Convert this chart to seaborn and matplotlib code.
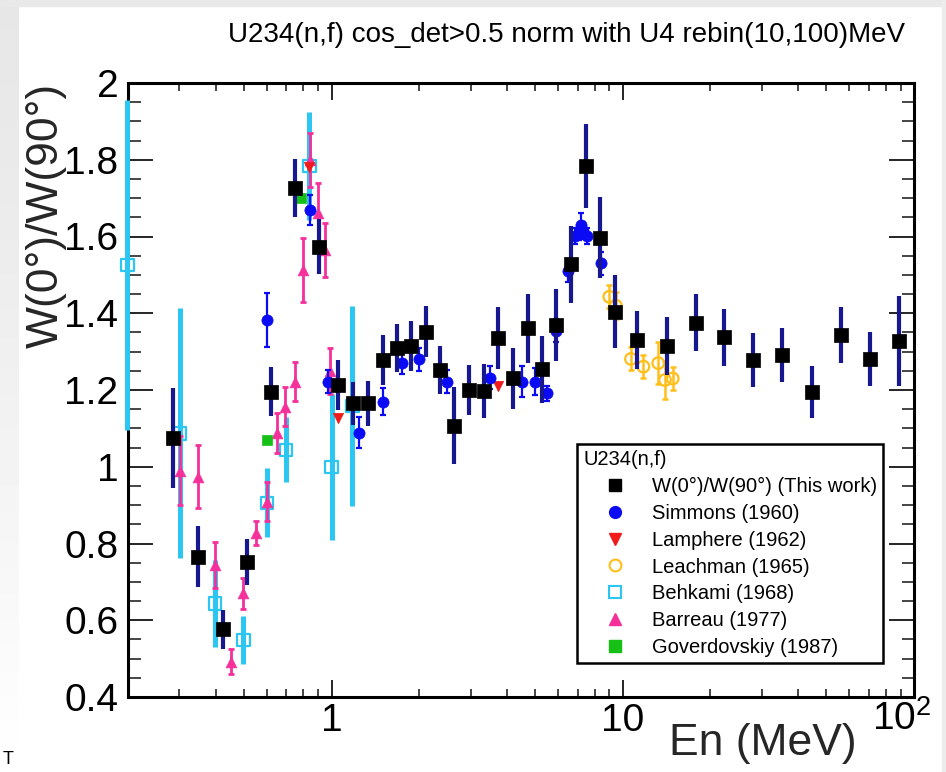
import numpy as np
import pandas as pd
import matplotlib
matplotlib.use("Agg")
import matplotlib.pyplot as plt
import seaborn as sns
from matplotlib import ticker
from matplotlib.lines import Line2D
from matplotlib.patches import Rectangle
from matplotlib.transforms import ScaledTranslation

# ---------------- data: W(0)/W(90) for U234(n,f) ----------------
this_work_e = [0.285, 0.349, 0.423, 0.511, 0.618, 0.749, 0.906, 1.055, 1.182, 1.331,
               1.499, 1.674, 1.874, 2.11, 2.362, 2.64, 2.966, 3.338, 3.738, 4.19,
               4.718, 5.28, 5.9, 6.62, 7.48, 8.35, 9.41, 11.22, 14.16, 17.8,
               22.3, 28.1, 35.3, 44.8, 56.1, 70.6, 88.9]
this_work_w = [1.075, 0.766, 0.576, 0.753, 1.196, 1.726, 1.573, 1.213, 1.165, 1.165,
               1.278, 1.309, 1.315, 1.352, 1.252, 1.107, 1.200, 1.197, 1.335, 1.230,
               1.361, 1.254, 1.369, 1.528, 1.784, 1.597, 1.404, 1.330, 1.315, 1.375,
               1.337, 1.278, 1.291, 1.194, 1.343, 1.281, 1.328]
this_work_err = [0.13, 0.08, 0.05, 0.06, 0.065, 0.075, 0.072, 0.065, 0.057, 0.058,
                 0.065, 0.063, 0.065, 0.066, 0.062, 0.10, 0.065, 0.07, 0.08, 0.08,
                 0.09, 0.087, 0.093, 0.10, 0.11, 0.105, 0.095, 0.076, 0.075, 0.074,
                 0.074, 0.07, 0.07, 0.068, 0.073, 0.07, 0.117]

simmons_e = [0.599, 0.843, 0.975, 1.246, 1.499, 1.742, 1.996, 2.486, 3.5, 4.5,
             5.0, 5.48, 5.9, 6.5, 6.86, 7.05, 7.17, 7.3, 7.52, 8.42]
simmons_w = [1.382, 1.669, 1.222, 1.089, 1.17, 1.271, 1.28, 1.222, 1.232, 1.222,
             1.222, 1.191, 1.355, 1.511, 1.601, 1.61, 1.63, 1.614, 1.601, 1.53]
simmons_err = [0.07, 0.04, 0.03, 0.04, 0.035, 0.03, 0.03, 0.03, 0.03, 0.04,
               0.035, 0.02, 0.03, 0.03, 0.02, 0.02, 0.03, 0.02, 0.02, 0.03]

lamphere_e = [0.839, 1.05, 3.738]
lamphere_w = [1.782, 1.126, 1.21]
lamphere_err = [0.01, 0.01, 0.01]

leachman_e = [8.99, 9.46, 10.67, 11.77, 13.24, 13.96, 14.84]
leachman_w = [1.443, 1.42, 1.281, 1.261, 1.27, 1.226, 1.23]
leachman_err = [0.03, 0.035, 0.03, 0.03, 0.055, 0.05, 0.03]

behkami_e = [0.199, 0.302, 0.398, 0.498, 0.599, 0.698, 0.839, 1.0, 1.18]
behkami_w = [1.526, 1.087, 0.644, 0.5485, 0.906, 1.044, 1.784, 1.0, 1.158]
behkami_err = [0.43, 0.326, 0.113, 0.062, 0.09, 0.085, 0.14, 0.19, 0.26]

barreau_e = [0.302, 0.349, 0.398, 0.452, 0.498, 0.549, 0.599, 0.648, 0.692, 0.749,
             0.80, 0.84, 0.90, 0.95, 0.99]
barreau_w = [0.99, 0.974, 0.744, 0.492, 0.67, 0.8265, 0.909, 1.087, 1.157, 1.222,
             1.513, 1.80, 1.66, 1.565, 1.25]
barreau_err = [0.09, 0.082, 0.06, 0.032, 0.04, 0.031, 0.05, 0.052, 0.05, 0.05,
               0.083, 0.07, 0.08, 0.07, 0.06]

goverdovskiy_e = [0.599, 0.786]
goverdovskiy_w = [1.07, 1.70]
goverdovskiy_err = [0.01, 0.01]

series_labels = ["W(0°)/W(90°) (This work)", "Simmons (1960)", "Lamphere (1962)",
                 "Leachman (1965)", "Behkami (1968)", "Barreau (1977)",
                 "Goverdovskiy (1987)"]
y_ticks = [0.4, 0.6, 0.8, 1.0, 1.2, 1.4, 1.6, 1.8, 2.0]
y_tick_labels = ["0.4", "0.6", "0.8", "1", "1.2", "1.4", "1.6", "1.8", "2"]
x_ticks = [1, 10, 100]
x_tick_labels = ["1", "10", "$10^{2}$"]

# ---------------- style ----------------
sns.set_theme(style="ticks")
plt.rcParams["font.family"] = ["Liberation Sans", "DejaVu Sans"]
plt.rcParams["mathtext.fontset"] = "custom"
plt.rcParams["mathtext.rm"] = "Liberation Sans"
plt.rcParams["mathtext.it"] = "Liberation Sans:italic"
plt.rcParams["mathtext.bf"] = "Liberation Sans:bold"
plt.rcParams["text.color"] = "black"

W, H = 946, 772
fig = plt.figure(figsize=(W / 100, H / 100), dpi=100)
fig.patch.set_facecolor("white")

# light grey slide border (top band, fading left band, thin right band)
fig.patches.append(Rectangle((0, 1 - 6 / H), 1, 6 / H, transform=fig.transFigure,
                             color="#e9e9e9", zorder=0))
fig.patches.append(Rectangle((942 / W, 0), 4 / W, 1, transform=fig.transFigure,
                             color="#ececec", zorder=0))
gax = fig.add_axes([0, 0, 19 / W, 1])
grad = np.linspace(0.0, 1.0, 256)[:, None]
gcol = np.clip(0.905 + 0.095 * grad ** 1.3, 0, 1)
gax.imshow(np.repeat(gcol, 2, axis=1), cmap="gray", vmin=0, vmax=1,
           aspect="auto", extent=[0, 1, 0, 1])
gax.set_axis_off()

ax = fig.add_axes([128 / W, 75 / H, 786 / W, 614 / H])
ax.set_facecolor("white")
ax.set_xscale("log")
ax.set_xlim(0.2, 100)
ax.set_ylim(0.4, 2.0)

C_NAVY = "#17178f"
C_BLUE = "#0a0af5"
C_RED = "#f01a1a"
C_YEL = "#ffbf1a"
C_CYAN = "#2cc6f2"
C_PINK = "#f5309a"
C_GREEN = "#16c016"


def draw(e, w, err, ecolor, elw, cap, marker, size, color, hollow=False, z=3):
    ax.errorbar(e, w, yerr=err, fmt="none", ecolor=ecolor, elinewidth=elw,
                capsize=cap, capthick=elw, zorder=z, clip_on=False)
    df = pd.DataFrame({"E": e, "W": w})
    if hollow:
        sns.scatterplot(data=df, x="E", y="W", ax=ax, marker=marker, s=size,
                        color=color, facecolor="none", edgecolor=color,
                        linewidth=1.6, zorder=z + 0.5, clip_on=False, legend=False)
    else:
        sns.scatterplot(data=df, x="E", y="W", ax=ax, marker=marker, s=size,
                        color=color, edgecolor=color, linewidth=0.5,
                        zorder=z + 0.5, clip_on=False, legend=False)


draw(behkami_e, behkami_w, behkami_err, C_CYAN, 3.6, 0, "s", 80, C_CYAN, hollow=True, z=3)
draw(barreau_e, barreau_w, barreau_err, C_PINK, 2.0, 2.5, "^", 60, C_PINK, z=4)
draw(goverdovskiy_e, goverdovskiy_w, goverdovskiy_err, C_GREEN, 1.0, 0, "s", 60, C_GREEN, z=5)
draw(leachman_e, leachman_w, leachman_err, C_YEL, 1.8, 2.5, "o", 70, C_YEL, hollow=True, z=6)
draw(lamphere_e, lamphere_w, lamphere_err, C_RED, 1.0, 0, "v", 55, C_RED, z=7)
draw(simmons_e, simmons_w, simmons_err, C_BLUE, 1.6, 2.5, "o", 65, C_BLUE, z=8)
draw(this_work_e, this_work_w, this_work_err, C_NAVY, 3.0, 0, "s", 115, "black", z=9)

# ---------------- axes, ticks ----------------
for sp in ax.spines.values():
    sp.set_visible(True)
    sp.set_linewidth(2.2)
    sp.set_color("black")
    sp.set_zorder(2)

ax.yaxis.set_major_locator(ticker.FixedLocator(y_ticks))
ax.yaxis.set_major_formatter(ticker.FixedFormatter(y_tick_labels))
ax.yaxis.set_minor_locator(ticker.MultipleLocator(0.05))
ax.xaxis.set_major_locator(ticker.FixedLocator(x_ticks))
ax.xaxis.set_major_formatter(ticker.FixedFormatter(x_tick_labels))
ax.xaxis.set_minor_locator(ticker.LogLocator(base=10, subs=np.arange(2, 10)))
ax.xaxis.set_minor_formatter(ticker.NullFormatter())

ax.tick_params(axis="y", which="major", direction="in", length=18, width=1.2,
               left=True, right=True, labelsize=28, pad=7, colors="black")
ax.tick_params(axis="y", which="minor", direction="in", length=9, width=1.2,
               left=True, right=True)
ax.tick_params(axis="x", which="major", direction="in", length=12, width=1.2,
               bottom=True, top=True, labelsize=28, pad=4, colors="black")
ax.tick_params(axis="x", which="minor", direction="in", length=6, width=1.2,
               bottom=True, top=True)

# the 10^2 label sits a little left of its tick
last = ax.get_xticklabels()[-1]
last.set_transform(last.get_transform() + ScaledTranslation(-0.12, 0.02, fig.dpi_scale_trans))

ax.set_ylabel("W(0°)/W(90°)", fontsize=32, loc="top")
ax.yaxis.set_label_coords(-0.078, 1.0)
ax.set_xlabel("En (MeV)", fontsize=32, loc="right")
ax.xaxis.set_label_coords((857 - 128) / 786, -0.043)

# ---------------- legend ----------------
handles = [
    Line2D([], [], ls="none", marker="s", ms=8.5, mfc="black", mec="black"),
    Line2D([], [], ls="none", marker="o", ms=8.5, mfc=C_BLUE, mec=C_BLUE),
    Line2D([], [], ls="none", marker="v", ms=8.5, mfc=C_RED, mec=C_RED),
    Line2D([], [], ls="none", marker="o", ms=8.5, mfc="none", mec=C_YEL, mew=1.5),
    Line2D([], [], ls="none", marker="s", ms=8.5, mfc="none", mec=C_CYAN, mew=1.5),
    Line2D([], [], ls="none", marker="^", ms=8.5, mfc=C_PINK, mec=C_PINK),
    Line2D([], [], ls="none", marker="s", ms=8.5, mfc=C_GREEN, mec=C_GREEN),
]
leg = ax.legend(handles, series_labels, title="U234(n,f)", loc="upper left",
                bbox_to_anchor=(577 / W, 1 - 444 / H), bbox_transform=fig.transFigure,
                fontsize=14.5, title_fontsize=14.5, alignment="left",
                frameon=True, fancybox=False, framealpha=1, edgecolor="black",
                borderpad=0.3, handlelength=3.2, handletextpad=0.2,
                labelspacing=0.39, borderaxespad=0)
leg.get_frame().set_linewidth(1.8)
leg.set_zorder(30)

# ---------------- title and slide footer letter ----------------
fig.text(905 / W, 1 - 35 / H, "U234(n,f) cos_det>0.5 norm with U4 rebin(10,100)MeV",
         ha="right", va="center", fontsize=20)
fig.text(3 / W, 1 - 751 / H, "T", ha="left", va="top", fontsize=13)

fig.savefig("out.png", dpi=100, facecolor=fig.get_facecolor())
